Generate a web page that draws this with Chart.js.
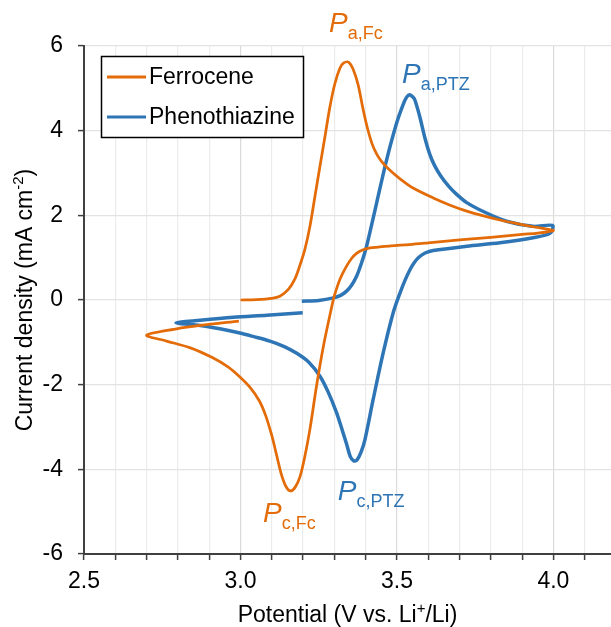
<!DOCTYPE html>
<html>
<head>
<meta charset="utf-8">
<script src="https://cdn.jsdelivr.net/npm/chart.js@4"></script>
<style>
  html, body { margin: 0; padding: 0; background: #fff; }
  #wrap { width: 611px; height: 627px; }
</style>
</head>
<body>
<div id="wrap"><canvas id="cv" width="611" height="627"></canvas></div>
<script>
// Ferrocene CV: forward scan 3.0 -> 4.0 V, back to 2.7 V, then up to 3.0 V
const fcPotential = [
  3.00, 3.05, 3.10, 3.126, 3.153, 3.174, 3.19, 3.206, 3.222, 3.238, 3.254, 3.27, 3.286, 3.302, 3.318,
  3.33, 3.345, 3.36, 3.376, 3.392, 3.405, 3.42, 3.435, 3.45, 3.475, 3.51, 3.55, 3.616, 3.67, 3.723, 3.78,
  3.829, 3.88, 3.935, 3.99, 4.00,
  3.95, 3.90, 3.80, 3.70, 3.60, 3.54, 3.48, 3.44, 3.414, 3.39, 3.371, 3.355, 3.339, 3.318, 3.30, 3.291,
  3.265, 3.243, 3.222, 3.205, 3.19, 3.175, 3.16, 3.145, 3.13, 3.115, 3.10, 3.08, 3.06, 3.03, 3.00,
  2.96, 2.91, 2.84, 2.764, 2.70,
  2.796, 2.871, 2.995
];
const fcCurrent = [
  0.00, 0.01, 0.04, 0.09, 0.25, 0.50, 0.82, 1.20, 1.74, 2.45, 3.16, 3.86, 4.57, 5.12, 5.48,
  5.60, 5.62, 5.45, 5.08, 4.50, 4.08, 3.70, 3.45, 3.28, 3.08, 2.86, 2.65, 2.41, 2.24, 2.10, 1.98,
  1.89, 1.81, 1.73, 1.66, 1.64,
  1.58, 1.55, 1.48, 1.42, 1.35, 1.31, 1.28, 1.25, 1.23, 1.18, 1.10, 0.98, 0.80, 0.49, 0.10, -0.18,
  -1.09, -2.03, -3.05, -3.72, -4.18, -4.42, -4.51, -4.40, -4.10, -3.65, -3.20, -2.72, -2.38, -2.06, -1.83,
  -1.58, -1.36, -1.13, -0.97, -0.83,
  -0.68, -0.60, -0.50
];

// Phenothiazine CV: forward scan 3.2 -> 4.0 V, back to 2.8 V, then up to 3.2 V
const ptzPotential = [
  3.196, 3.25, 3.297, 3.32, 3.339, 3.355, 3.371, 3.387, 3.403, 3.435, 3.467, 3.499, 3.52, 3.53, 3.54,
  3.55, 3.557, 3.573, 3.589, 3.605, 3.62, 3.64, 3.665, 3.69, 3.723, 3.776, 3.85, 3.935, 3.997,
  3.99, 3.935, 3.829, 3.723, 3.616, 3.59, 3.57, 3.555, 3.542, 3.526, 3.51, 3.488, 3.456, 3.424, 3.398,
  3.385, 3.372, 3.362, 3.351, 3.339, 3.325, 3.307, 3.28, 3.254, 3.22, 3.18, 3.14, 3.094, 3.04, 2.998,
  2.934, 2.871, 2.794,
  2.871, 2.977, 3.084, 3.199
];
const ptzCurrent = [
  -0.03, -0.01, 0.05, 0.11, 0.21, 0.35, 0.56, 0.88, 1.27, 2.29, 3.31, 4.18, 4.62, 4.78, 4.85,
  4.80, 4.73, 4.33, 3.84, 3.44, 3.18, 2.93, 2.69, 2.50, 2.30, 2.09, 1.86, 1.74, 1.76,
  1.58, 1.47, 1.35, 1.27, 1.17, 1.11, 1.01, 0.88, 0.72, 0.47, 0.17, -0.30, -1.25, -2.35, -3.29,
  -3.60, -3.78, -3.80, -3.70, -3.40, -3.07, -2.66, -2.17, -1.80, -1.48, -1.26, -1.10, -0.97, -0.86, -0.78,
  -0.68, -0.60, -0.54,
  -0.48, -0.41, -0.36, -0.30
];

const seriesNames = ['Ferrocene', 'Phenothiazine'];
const xTicks = [2.5, 2.6, 2.7, 2.8, 2.9, 3.0, 3.1, 3.2, 3.3, 3.4, 3.5, 3.6, 3.7, 3.8, 3.9, 4.0, 4.1];
const xLabelTicks = [2.5, 3.0, 3.5, 4.0];
const yTicks = [-6, -4, -2, 0, 2, 4, 6];

// peak labels: main letter + subscript, anchored in data units
const peakLabels = [
  { main: 'P', sub: 'a,Fc', x: 3.283, y: 6.33, series: 0 },
  { main: 'P', sub: 'a,PTZ', x: 3.516, y: 5.13, series: 1 },
  { main: 'P', sub: 'c,Fc', x: 3.072, y: -5.25, series: 0 },
  { main: 'P', sub: 'c,PTZ', x: 3.311, y: -4.73, series: 1 }
];

const colors = ['#E36C09', '#2E75B6'];
const FONT = "'Liberation Sans', Arial, sans-serif";

function toPoints(xs, ys) {
  return xs.map((v, i) => ({ x: v, y: ys[i] }));
}

function drawParts(ctx, x, y, parts) {
  parts.forEach(p => {
    ctx.font = p.font;
    ctx.fillText(p.text, x, y + (p.dy || 0));
    x += ctx.measureText(p.text).width;
  });
}
function partsWidth(ctx, parts) {
  let w = 0;
  parts.forEach(p => { ctx.font = p.font; w += ctx.measureText(p.text).width; });
  return w;
}

const overlay = {
  id: 'overlay',
  afterDraw(chart) {
    const ctx = chart.ctx;
    const area = chart.chartArea;
    const sx = chart.scales.x, sy = chart.scales.y;
    ctx.save();
    ctx.textBaseline = 'alphabetic';
    ctx.textAlign = 'left';

    // peak labels
    peakLabels.forEach(l => {
      ctx.fillStyle = colors[l.series];
      const px = sx.getPixelForValue(l.x), py = sy.getPixelForValue(l.y);
      drawParts(ctx, px, py, [
        { text: l.main, font: 'italic 28px ' + FONT },
        { text: l.sub, font: '18px ' + FONT, dy: 7 }
      ]);
    });

    // x axis title
    ctx.fillStyle = '#000';
    const xt = [
      { text: 'Potential (V vs. Li', font: '23px ' + FONT },
      { text: '+', font: '15px ' + FONT, dy: -9 },
      { text: '/Li)', font: '23px ' + FONT }
    ];
    drawParts(ctx, (area.left + area.right) / 2 - partsWidth(ctx, xt) / 2, 622, xt);

    // y axis title
    const yt = [
      { text: 'Current density (mA cm', font: '23px ' + FONT },
      { text: '-2', font: '15px ' + FONT, dy: -9 },
      { text: ')', font: '23px ' + FONT }
    ];
    ctx.translate(32, (area.top + area.bottom) / 2);
    ctx.rotate(-Math.PI / 2);
    drawParts(ctx, -partsWidth(ctx, yt) / 2, 0, yt);
    ctx.restore();

    // legend
    ctx.save();
    ctx.fillStyle = '#fff';
    ctx.fillRect(101, 56, 202, 81);
    ctx.strokeStyle = '#000';
    ctx.lineWidth = 1.5;
    ctx.strokeRect(101.5, 56.5, 202, 81);
    seriesNames.forEach((name, i) => {
      const ly = 77 + i * 40;
      ctx.strokeStyle = colors[i];
      ctx.lineWidth = 3;
      ctx.beginPath();
      ctx.moveTo(107, ly);
      ctx.lineTo(146, ly);
      ctx.stroke();
      ctx.fillStyle = '#000';
      ctx.font = '23px ' + FONT;
      ctx.textBaseline = 'middle';
      ctx.fillText(name, 149, ly + 1);
    });
    ctx.restore();
  }
};

new Chart(document.getElementById('cv'), {
  type: 'scatter',
  data: {
    datasets: [
      {
        label: seriesNames[0],
        data: toPoints(fcPotential, fcCurrent),
        showLine: true,
        borderColor: colors[0],
        borderWidth: 2.75,
        pointRadius: 0,
        tension: 0.3
      },
      {
        label: seriesNames[1],
        data: toPoints(ptzPotential, ptzCurrent),
        showLine: true,
        borderColor: colors[1],
        borderWidth: 3.5,
        pointRadius: 0,
        tension: 0.3
      }
    ]
  },
  options: {
    responsive: false,
    animation: false,
    layout: { padding: { top: 46, right: 0, left: 0, bottom: 0 } },
    plugins: {
      legend: { display: false },
      tooltip: { enabled: false }
    },
    scales: {
      x: {
        type: 'linear',
        min: 2.5,
        max: 4.184,
        afterBuildTicks: scale => { scale.ticks = xTicks.map(v => ({ value: v })); },
        afterFit: scale => { scale.height = 73; },
        border: { color: '#404040', width: 2 },
        grid: {
          color: ctx => xLabelTicks.some(v => Math.abs(v - ctx.tick.value) < 1e-6) ? '#dadada' : '#ececec',
          lineWidth: 1.2,
          tickColor: '#404040',
          tickLength: 6,
          tickWidth: 1.5
        },
        ticks: {
          autoSkip: false,
          maxRotation: 0,
          padding: 8,
          color: '#000',
          font: { family: FONT, size: 23 },
          callback: v => xLabelTicks.some(t => Math.abs(t - v) < 1e-6) ? v.toFixed(1) : ''
        }
      },
      y: {
        type: 'linear',
        min: -6,
        max: 6,
        afterBuildTicks: scale => { scale.ticks = yTicks.map(v => ({ value: v })); },
        afterFit: scale => { scale.width = 84; },
        border: { color: '#404040', width: 2 },
        grid: {
          color: '#e3e3e3',
          lineWidth: 1.2,
          tickColor: '#404040',
          tickLength: 6,
          tickWidth: 1.5
        },
        ticks: {
          padding: 15,
          color: '#000',
          font: { family: FONT, size: 23 },
          callback: v => String(v)
        }
      }
    }
  },
  plugins: [overlay]
});
</script>
</body>
</html>
